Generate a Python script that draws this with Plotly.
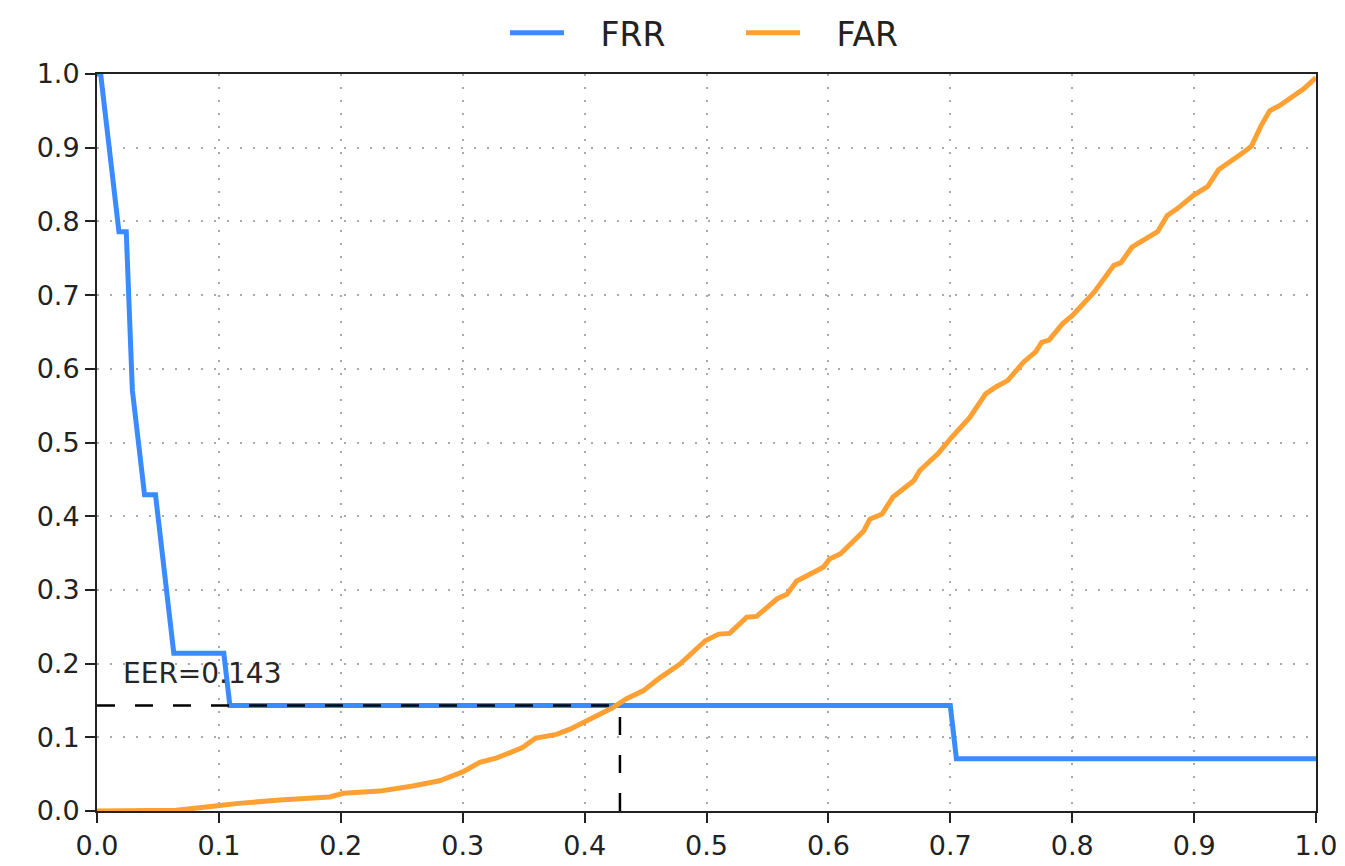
import plotly.graph_objects as go

# FRR curve (stepwise)
frr_x = [0.0, 0.003, 0.018, 0.024, 0.029, 0.039, 0.048, 0.063, 0.104, 0.109, 0.700, 0.705, 1.0]
frr_y = [1.0, 1.0, 0.786, 0.786, 0.571, 0.429, 0.429, 0.214, 0.214, 0.143, 0.143, 0.071, 0.071]

# FAR curve
far_x = [0.0, 0.065, 0.099, 0.114, 0.150, 0.191, 0.202, 0.232, 0.259, 0.281, 0.300, 0.314,
         0.328, 0.339, 0.349, 0.360, 0.377, 0.388, 0.399, 0.412, 0.423, 0.434, 0.448, 0.462,
         0.478, 0.499, 0.510, 0.519, 0.533, 0.541, 0.558, 0.566, 0.574, 0.588, 0.596, 0.601,
         0.610, 0.629, 0.634, 0.644, 0.653, 0.670, 0.675, 0.690, 0.700, 0.716, 0.729, 0.738,
         0.747, 0.760, 0.770, 0.775, 0.781, 0.792, 0.800, 0.818, 0.834, 0.840, 0.849, 0.870,
         0.878, 0.886, 0.900, 0.911, 0.920, 0.940, 0.947, 0.955, 0.962, 0.970, 0.979, 0.990, 1.0]
far_y = [0.0, 0.001, 0.007, 0.010, 0.015, 0.019, 0.024, 0.027, 0.034, 0.041, 0.053, 0.066,
         0.072, 0.079, 0.086, 0.099, 0.104, 0.111, 0.120, 0.131, 0.140, 0.152, 0.163, 0.181,
         0.199, 0.231, 0.240, 0.241, 0.263, 0.264, 0.288, 0.294, 0.312, 0.324, 0.331, 0.342,
         0.349, 0.380, 0.396, 0.403, 0.426, 0.448, 0.462, 0.485, 0.505, 0.534, 0.566, 0.576,
         0.584, 0.609, 0.623, 0.636, 0.639, 0.661, 0.672, 0.704, 0.740, 0.744, 0.765, 0.786,
         0.808, 0.817, 0.836, 0.847, 0.870, 0.893, 0.902, 0.930, 0.950, 0.957, 0.967, 0.980, 0.995]

eer_x = 0.429
eer_y = 0.143
eer_label = "EER=0.143"

x_ticks = [0.0, 0.1, 0.2, 0.3, 0.4, 0.5, 0.6, 0.7, 0.8, 0.9, 1.0]
y_ticks = [0.0, 0.1, 0.2, 0.3, 0.4, 0.5, 0.6, 0.7, 0.8, 0.9, 1.0]

FONT = "DejaVu Sans"
PAD = "\u00a0\u00a0\u00a0"

fig = go.Figure()
fig.add_trace(go.Scatter(x=frr_x, y=frr_y, mode="lines", name=PAD + "FRR",
                         line=dict(color="#3a8bff", width=5)))
fig.add_trace(go.Scatter(x=far_x, y=far_y, mode="lines", name=PAD + "FAR",
                         line=dict(color="#ffa033", width=5)))
# EER dashed guides
fig.add_trace(go.Scatter(x=[0.0, eer_x], y=[eer_y, eer_y], mode="lines", showlegend=False,
                         line=dict(color="black", width=2.5, dash="18px,20px")))
fig.add_trace(go.Scatter(x=[eer_x, eer_x], y=[0.0, eer_y], mode="lines", showlegend=False,
                         line=dict(color="black", width=2.5, dash="18px,20px")))

fig.add_annotation(x=0.02, y=0.186, xref="x", yref="y", text=eer_label, showarrow=False,
                   xanchor="left", yanchor="middle",
                   font=dict(family=FONT, size=28, color="#262626"))

axis_common = dict(
    showline=True, linecolor="#222222", linewidth=2, mirror=True,
    showgrid=True, gridcolor="#aaaaaa", gridwidth=1.5, griddash="2px,11px",
    ticks="outside", ticklen=10, tickwidth=1.5, tickcolor="#222222",
    tickfont=dict(family=FONT, size=27, color="#222222"),
    zeroline=False, automargin=False,
)

fig.update_xaxes(range=[0, 1], tickvals=x_ticks, ticktext=[f"{v:.1f}" for v in x_ticks],
                 **axis_common)
fig.update_yaxes(range=[0, 1], tickvals=y_ticks, ticktext=[f"{v:.1f}" for v in y_ticks],
                 **axis_common)

fig.update_layout(
    width=1345, height=866,
    margin=dict(l=97, r=29, t=74, b=55, autoexpand=False),
    plot_bgcolor="white", paper_bgcolor="white",
    font=dict(family=FONT, color="#222222"),
    legend=dict(orientation="h", x=0.3347, xanchor="left",
                yref="container", y=0.962, yanchor="middle",
                font=dict(family=FONT, size=33, color="#222222"),
                itemwidth=54, entrywidth=167, entrywidthmode="pixels",
                bgcolor="rgba(0,0,0,0)"),
)

fig.write_html("out.html")
